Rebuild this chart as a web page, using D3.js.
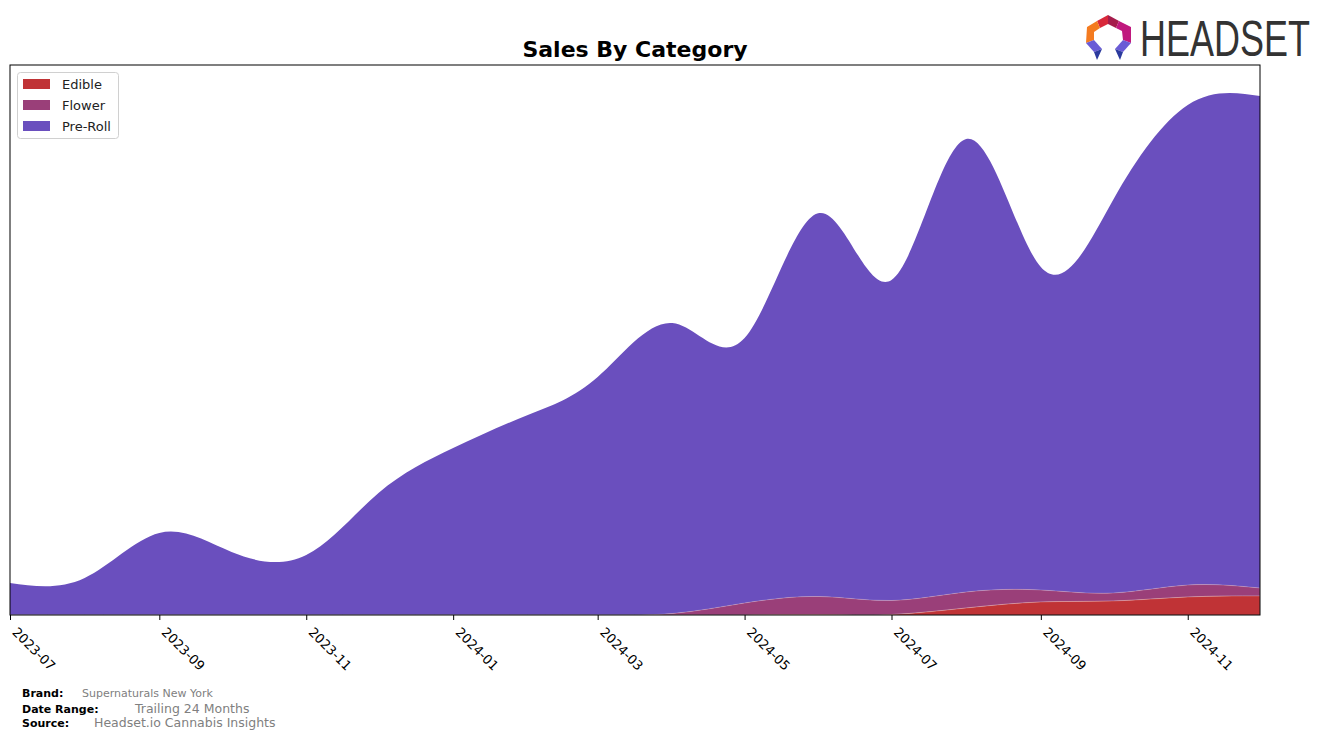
<!DOCTYPE html>
<html>
<head>
<meta charset="utf-8">
<script src="https://cdn.jsdelivr.net/npm/d3@7"></script>
<style>
  html, body { margin: 0; padding: 0; background: #fff; }
  svg { display: block; font-family: "DejaVu Sans", sans-serif; }
</style>
</head>
<body>
<svg id="chart" width="1324" height="740"></svg>
<script>
// ---- Data ----
const months = ["2023-07","2023-08","2023-09","2023-10","2023-11","2023-12",
                "2024-01","2024-02","2024-03","2024-04","2024-05","2024-06",
                "2024-07","2024-08","2024-09","2024-10","2024-11","2024-12"];
const edible  = [0,0,0,0,0,0, 0,0,0,0,0,0.5, 0.5,7,13,14,18,19];
const flower  = [0,0,0,0,0,0, 0,0,0,1.5,12,18, 14,16,12,8,12,8];
const preRoll = [32,37,82,63,60,122, 167,200,238,290.5,265,383.5, 320.5,453,323,393,480,492];
const tickLabels = ["2023-07","2023-09","2023-11","2024-01","2024-03","2024-05","2024-07","2024-09","2024-11"];
const categories = ["Edible","Flower","Pre-Roll"];
const colors = ["#c03336","#9a3f79","#6a4fbe"];

const footer = [
  {label: "Brand:", value: "Supernaturals New York"},
  {label: "Date Range:", value: "Trailing 24 Months"},
  {label: "Source:", value: "Headset.io Cannabis Insights"}
];

(function () {
// ---- Layout ----
const svg = d3.select("#chart");
const pL = 10, pR = 1260, pT = 65, pB = 615;
const parse = d3.timeParse("%Y-%m");

const x = d3.scaleTime()
  .domain([parse(months[0]), parse(months[months.length - 1])])
  .range([pL, pR]);
const y = d3.scaleLinear().domain([0, 550]).range([pB, pT]);

const rows = months.map((m, i) => ({
  date: parse(m), "Edible": edible[i], "Flower": flower[i], "Pre-Roll": preRoll[i]
}));
const series = d3.stack().keys(categories)(rows);

const area = d3.area()
  .x(d => x(d.data.date))
  .y0(d => y(Math.max(0, d[0])))
  .y1(d => y(Math.max(0, d[1])))
  .curve(d3.curveNatural);

svg.append("defs").append("clipPath").attr("id", "plotClip")
  .append("rect").attr("x", pL).attr("y", pT)
  .attr("width", pR - pL).attr("height", pB - pT);

const g = svg.append("g").attr("clip-path", "url(#plotClip)");
for (let i = series.length - 1; i >= 0; i--) {
  g.append("path")
    .datum(series[i])
    .attr("d", area)
    .attr("fill", colors[i])
    .attr("stroke", i === 2 ? "none" : "rgba(255,255,255,0.25)")
    .attr("stroke-width", 0.8);
}

// frame
svg.append("rect")
  .attr("x", pL).attr("y", pT)
  .attr("width", pR - pL).attr("height", pB - pT)
  .attr("fill", "none").attr("stroke", "#000").attr("stroke-width", 1);

// x axis
const xAxis = d3.axisBottom(x)
  .tickValues(tickLabels.map(parse))
  .tickFormat(d3.timeFormat("%Y-%m"))
  .tickSize(5).tickSizeOuter(0);
const ax = svg.append("g").attr("transform", `translate(0,${pB})`).call(xAxis);
ax.select(".domain").remove();
ax.selectAll(".tick line").attr("stroke", "#000");
ax.selectAll(".tick text")
  .attr("font-family", "DejaVu Sans, sans-serif")
  .attr("font-size", 13)
  .attr("fill", "#000")
  .attr("text-anchor", "start")
  .attr("dy", null)
  .attr("y", 0)
  .attr("transform", "translate(1,18) rotate(45)");

// title
svg.append("text")
  .attr("x", 635).attr("y", 57)
  .attr("text-anchor", "middle")
  .attr("font-size", 22).attr("font-weight", "bold")
  .attr("fill", "#000")
  .text("Sales By Category");

// legend
const lg = svg.append("g");
lg.append("rect")
  .attr("x", 17.5).attr("y", 72.5).attr("width", 101).attr("height", 66)
  .attr("rx", 3).attr("fill", "#fff").attr("stroke", "#d0d0d0");
categories.forEach((c, i) => {
  lg.append("rect").attr("x", 23).attr("y", 79 + i * 21).attr("width", 27).attr("height", 10)
    .attr("fill", colors[i]);
  lg.append("text").attr("x", 62).attr("y", 89 + i * 21)
    .attr("font-size", 13).attr("fill", "#222").text(c);
});

// footer
const fy = [697, 713, 727];
const fvx = [82, 135, 94];
const fsz = [11, 12.5, 12.5];
footer.forEach((f, i) => {
  svg.append("text").attr("x", 22).attr("y", fy[i])
    .attr("font-size", 11).attr("font-weight", "bold").attr("fill", "#000").text(f.label);
  svg.append("text").attr("x", fvx[i]).attr("y", fy[i])
    .attr("font-size", fsz[i]).attr("fill", "#808080").text(f.value);
});

// HEADSET logo
const logo = svg.append("g").attr("transform", "translate(1086,15)");
logo.append("polygon").attr("points", "11,6 22,0 22,9 14,13").attr("fill", "#d8283a");
logo.append("polygon").attr("points", "22,0 33,6 30,13 22,9").attr("fill", "#a51c4c");
logo.append("polygon").attr("points", "33,6 45,12 45,28 37,25 36,16 30,13").attr("fill", "#c0197e");
logo.append("polygon").attr("points", "11,6 14,13 8,17 8,25 0,28 1,12").attr("fill", "#f47b20");
logo.append("polygon").attr("points", "0,28 8,25 16,34 8,37").attr("fill", "#6a5bd6");
logo.append("polygon").attr("points", "8,37 16,34 11,45").attr("fill", "#2b3a9e");
logo.append("polygon").attr("points", "45,28 37,25 29,34 37,37").attr("fill", "#6a5bd6");
logo.append("polygon").attr("points", "37,37 29,34 34,45").attr("fill", "#2b3a9e");
svg.append("text")
  .attr("transform", "translate(1140,56) scale(0.72,1)")
  .attr("font-family", "Liberation Sans, sans-serif")
  .attr("font-size", 50)
  .attr("fill", "#333").text("HEADSET");
})();
</script>
</body>
</html>
